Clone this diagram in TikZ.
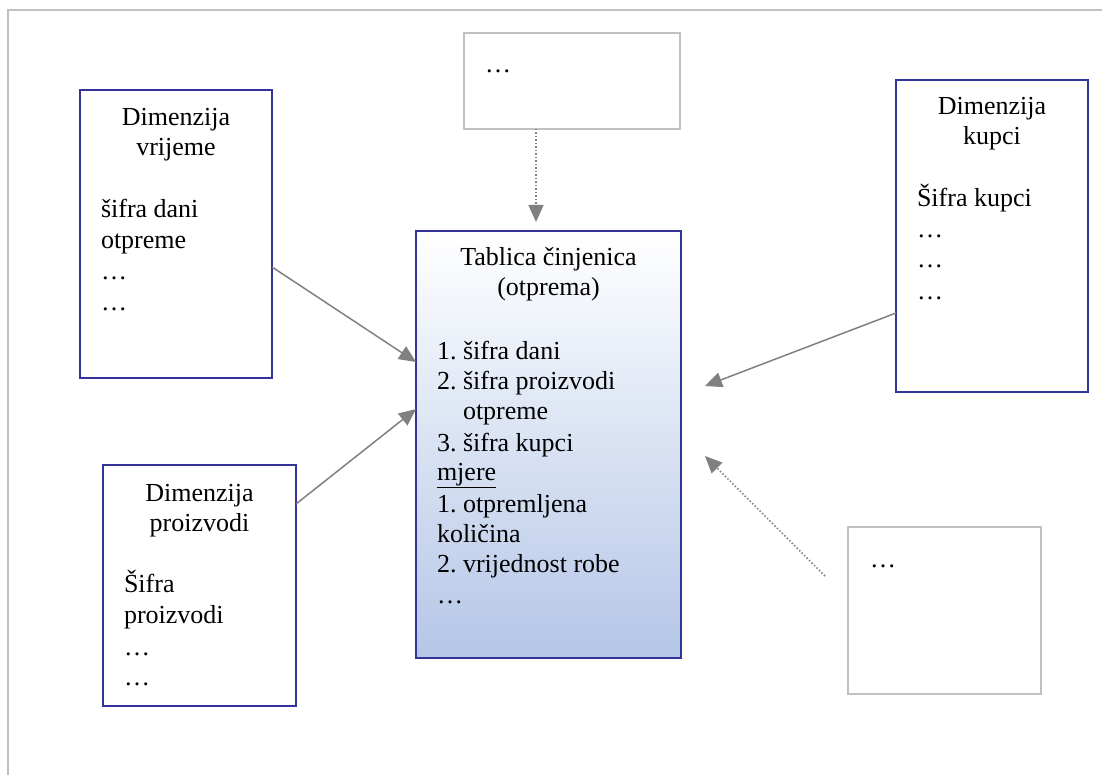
\documentclass[tikz,border=0pt]{standalone}
\usepackage{fontspec}
\setmainfont{Liberation Serif}
\usetikzlibrary{arrows.meta,calc}
\frenchspacing

\definecolor{dimblue}{RGB}{51,51,153}
\definecolor{lightframe}{RGB}{192,192,192}
\definecolor{arrowgray}{RGB}{128,128,128}
\definecolor{factblue}{RGB}{180,198,231}

\tikzset{
  dimbox/.style={draw=dimblue, line width=2pt, anchor=north west,
    inner sep=0pt, outer sep=0pt, fill=white},
  stubbox/.style={draw=lightframe, line width=2pt, anchor=north west,
    inner sep=0pt, outer sep=0pt, fill=white},
  factbox/.style={draw=dimblue, line width=2pt, anchor=north west,
    inner sep=0pt, outer sep=0pt, top color=white, bottom color=factblue},
  txt/.style={anchor=base west, inner sep=0pt, outer sep=0pt,
    font=\fontsize{26pt}{31pt}\selectfont},
  head/.style={txt, anchor=base},
  link/.style={draw=arrowgray, line width=1.5pt,
    -{Triangle[length=17pt,width=15pt]}},
  hint/.style={link, dotted},
  pageframe/.style={draw=lightframe, line width=2pt}
}

\begin{document}
\begin{tikzpicture}[x=1pt, y=-1pt]
  \useasboundingbox (0,0) rectangle (1102,775);

  % open frame along the top and left edges
  \draw[pageframe] (8,775) -- (8,10) -- (1102,10);

  % boxes
  \node[dimbox, minimum width=192pt, minimum height=288pt] (vr) at (80,90) {};
  \node[dimbox, minimum width=193pt, minimum height=241pt] (pr) at (103,465) {};
  \node[dimbox, minimum width=192pt, minimum height=312pt] (ku) at (896,80) {};
  \node[factbox, minimum width=265pt, minimum height=427pt] (ft) at (416,231) {};
  \node[stubbox, minimum width=216pt, minimum height=96pt] (s1) at (464,33) {};
  \node[stubbox, minimum width=193pt, minimum height=167pt] (s2) at (848,527) {};

  % time dimension
  \node[head] (vrH1) at (176,126) {Dimenzija};
  \node[head] (vrH2) at (176,156) {vrijeme};
  \node[txt] (vrL1) at (101,218) {šifra dani};
  \node[txt] (vrL2) at (101,249) {otpreme};
  \node[txt] (vrL3) at (101,280) {…};
  \node[txt] (vrL4) at (101,311) {…};

  % product dimension
  \node[head] (prH1) at (199.5,501) {Dimenzija};
  \node[head] (prH2) at (199.5,531) {proizvodi};
  \node[txt] (prL1) at (124,592) {Šifra};
  \node[txt] (prL2) at (124,623) {proizvodi};
  \node[txt] (prL3) at (124,655) {…};
  \node[txt] (prL4) at (124,685) {…};

  % customer dimension
  \node[head] (kuH1) at (992,115) {Dimenzija};
  \node[head] (kuH2) at (992,145) {kupci};
  \node[txt] (kuL1) at (917,207) {Šifra kupci};
  \node[txt] (kuL2) at (917,238) {…};
  \node[txt] (kuL3) at (917,268) {…};
  \node[txt] (kuL4) at (917,300) {…};

  % fact table
  \node[head] (ftH1) at (548.5,266) {Tablica činjenica};
  \node[head] (ftH2) at (548.5,296) {(otprema)};
  \node[txt] (ftL1) at (437,359) {1. šifra dani};
  \node[txt] (ftL2) at (437,389) {2. šifra proizvodi};
  \node[txt] (ftL3) at (463,419) {otpreme};
  \node[txt] (ftL4) at (437,451) {3. šifra kupci};
  \node[txt] (ftL5) at (437,480) {\underline{mjere}};
  \node[txt] (ftL6) at (437,512) {1. otpremljena};
  \node[txt] (ftL7) at (437,542) {količina};
  \node[txt] (ftL8) at (437,572) {2. vrijednost robe};
  \node[txt] (ftL9) at (437,603) {…};

  % further dimensions
  \node[txt] (s1L) at (485,73) {…};
  \node[txt] (s2L) at (870,567) {…};

  % connectors
  \coordinate (s1Tip) at (536,222);
  \coordinate (kuTip) at (705,386);
  \coordinate (s2Tail) at (825,576);
  \coordinate (s2Tip) at (705,456);

  \draw[link] ([yshift=-177pt]vr.north east) -- ([yshift=-131pt]ft.north west);
  \draw[link] ([yshift=-39pt]pr.north east) -- ([yshift=-178pt]ft.north west);
  \draw[link] ([yshift=-233pt]ku.north west) -- (kuTip);
  \draw[hint] (s1.south -| s1Tip) -- (s1Tip);
  \draw[hint] (s2Tail) -- (s2Tip);
\end{tikzpicture}
\end{document}
